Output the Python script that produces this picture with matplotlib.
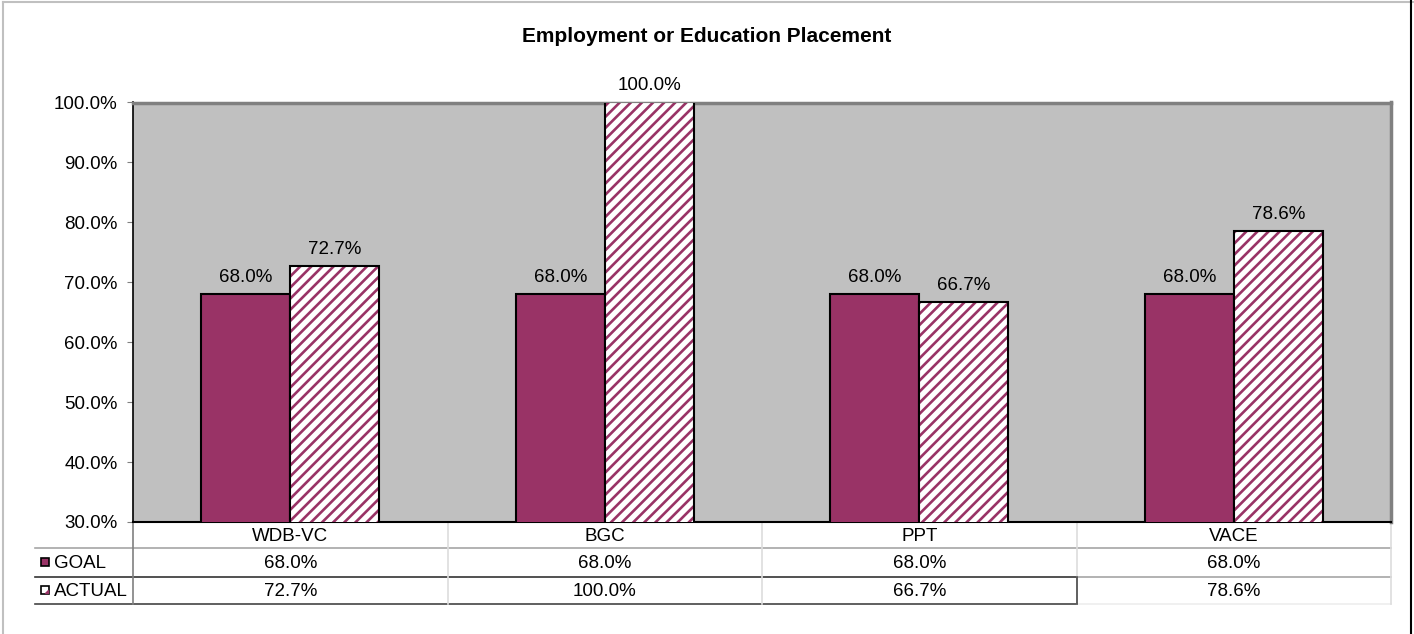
import matplotlib.pyplot as plt
from matplotlib.patches import Rectangle
from matplotlib.lines import Line2D
from matplotlib.ticker import FuncFormatter
import matplotlib.transforms as mtransforms

# Chart data
categories = ['WDB-VC', 'BGC', 'PPT', 'VACE']
goal = [68.0, 68.0, 68.0, 68.0]
actual = [72.7, 100.0, 66.7, 78.6]
series_names = ['GOAL', 'ACTUAL']
title = 'Employment or Education Placement'

plum = '#993366'
plt.rcParams['font.family'] = ['Liberation Sans', 'DejaVu Sans']
plt.rcParams['hatch.linewidth'] = 1.9
plt.rcParams['hatch.color'] = plum

W, H = 1414, 634
fs = 13.5
fig = plt.figure(figsize=(W / 100, H / 100), dpi=100)

# plot area in pixels: x 133..1391, y 102.5..522
left, right, top, bottom = 133, 1391, 102.5, 522
ax = fig.add_axes([left / W, 1 - bottom / H, (right - left) / W, (bottom - top) / H])
ax.set_facecolor('#C0C0C0')

x = list(range(len(categories)))
bw = 0.283
xg = [i - bw / 2 for i in x]
xa = [i + bw / 2 for i in x]
ax.bar(xg, goal, width=bw, color=plum, edgecolor='black', linewidth=1.5, zorder=3)
ax.bar(xa, actual, width=bw, color='white', edgecolor=plum, hatch='///',
       linewidth=0, zorder=3)
ax.bar(xa, actual, width=bw, fill=False, edgecolor='black', linewidth=1.5, zorder=4)

for xi, v in zip(xg, goal):
    ax.annotate('%.1f%%' % v, (xi, v), xytext=(0, 8), textcoords='offset pixels',
                ha='center', va='bottom', fontsize=fs)
for xi, v in zip(xa, actual):
    ax.annotate('%.1f%%' % v, (xi, v), xytext=(0, 8), textcoords='offset pixels',
                ha='center', va='bottom', fontsize=fs, annotation_clip=False)

ax.set_xlim(-0.5, len(categories) - 0.5)
ax.set_ylim(30, 100)
ax.set_yticks(range(30, 101, 10))
ax.yaxis.set_major_formatter(FuncFormatter(lambda v, p: '%.1f%%' % v))
ax.tick_params(axis='y', length=4, color='#808080', pad=7, labelsize=fs)
ax.set_xticks([])

for side in ['top', 'right']:
    ax.spines[side].set_color('#808080')
    ax.spines[side].set_linewidth(2.5)
ax.spines['left'].set_color('black')
ax.spines['bottom'].set_color('black')
ax.spines['left'].set_linewidth(1.2)
ax.spines['bottom'].set_linewidth(1.5)

# data table below the plot
trans = mtransforms.blended_transform_factory(ax.transData, ax.transAxes)
ph = bottom - top


def ay(py):
    return (bottom - py) / ph


rows = [522, 548.3, 576.5, 604]
x0 = -0.5 - (left - 35) / (right - left) * len(categories)
# horizontal lines
ax.add_line(Line2D([x0, 3.5], [ay(rows[1])] * 2, transform=trans, color='#A6A6A6',
                   lw=1.2, clip_on=False))
ax.add_line(Line2D([x0, 2.5], [ay(rows[2])] * 2, transform=trans, color='#333333',
                   lw=1.2, clip_on=False))
ax.add_line(Line2D([2.5, 3.5], [ay(rows[2])] * 2, transform=trans, color='#A6A6A6',
                   lw=1.2, clip_on=False))
ax.add_line(Line2D([x0, 2.5], [ay(rows[3])] * 2, transform=trans, color='#444444',
                   lw=1.2, clip_on=False))
ax.add_line(Line2D([2.5, 3.5], [ay(rows[3])] * 2, transform=trans, color='#EEEEEE',
                   lw=1.2, clip_on=False))
# vertical lines
ax.add_line(Line2D([-0.5, -0.5], [0, ay(rows[3])], transform=trans, color='#808080',
                   lw=1.2, clip_on=False))
for xv in [0.5, 1.5, 3.5]:
    ax.add_line(Line2D([xv, xv], [0, ay(rows[3])], transform=trans, color='#DDDDDD',
                       lw=1.2, clip_on=False))
ax.add_line(Line2D([2.5, 2.5], [0, ay(rows[2])], transform=trans, color='#DDDDDD',
                   lw=1.2, clip_on=False))
ax.add_line(Line2D([2.5, 2.5], [ay(rows[2]), ay(rows[3])], transform=trans,
                   color='#444444', lw=1.2, clip_on=False))

for i, c in enumerate(categories):
    ax.text(i, ay((rows[0] + rows[1]) / 2 + 1), c, transform=trans, ha='center',
            va='center', fontsize=fs)
    ax.text(i, ay((rows[1] + rows[2]) / 2 + 1), '%.1f%%' % goal[i], transform=trans,
            ha='center', va='center', fontsize=fs)
    ax.text(i, ay((rows[2] + rows[3]) / 2 + 1), '%.1f%%' % actual[i], transform=trans,
            ha='center', va='center', fontsize=fs)

# legend keys inside the table
for r, name in enumerate(series_names):
    cy = (rows[r + 1] + rows[r + 2]) / 2
    ks = 8
    if r == 0:
        key = Rectangle((41 / W, 1 - (cy + ks / 2) / H), ks / W, ks / H,
                        transform=fig.transFigure, facecolor=plum,
                        edgecolor='black', lw=1.2)
    else:
        key = Rectangle((41 / W, 1 - (cy + ks / 2) / H), ks / W, ks / H,
                        transform=fig.transFigure, facecolor='white',
                        edgecolor='black', lw=1.2)
    fig.add_artist(key)
    if r == 1:
        fig.add_artist(plt.Polygon([(45 / W, 1 - (cy + 3) / H),
                                    (48 / W, 1 - (cy + 3) / H),
                                    (48 / W, 1 - cy / H)],
                                   transform=fig.transFigure, color=plum))
    fig.text(54 / W, 1 - (cy + 1) / H, name, ha='left', va='center', fontsize=fs)

fig.text(0.5, 1 - 36 / H, title, ha='center', va='center', fontsize=15,
         fontweight='bold')

# outer chart border
fig.add_artist(Line2D([3 / W, 3 / W], [0, 1 - 2 / H], transform=fig.transFigure,
                      color='#C0C0C0', lw=1.5))
fig.add_artist(Line2D([3 / W, 1], [1 - 2 / H, 1 - 2 / H], transform=fig.transFigure,
                      color='#C0C0C0', lw=1.5))
fig.add_artist(Line2D([1410.5 / W, 1410.5 / W], [0, 1], transform=fig.transFigure,
                      color='black', lw=1.5))

fig.savefig('out.png', dpi=100)
